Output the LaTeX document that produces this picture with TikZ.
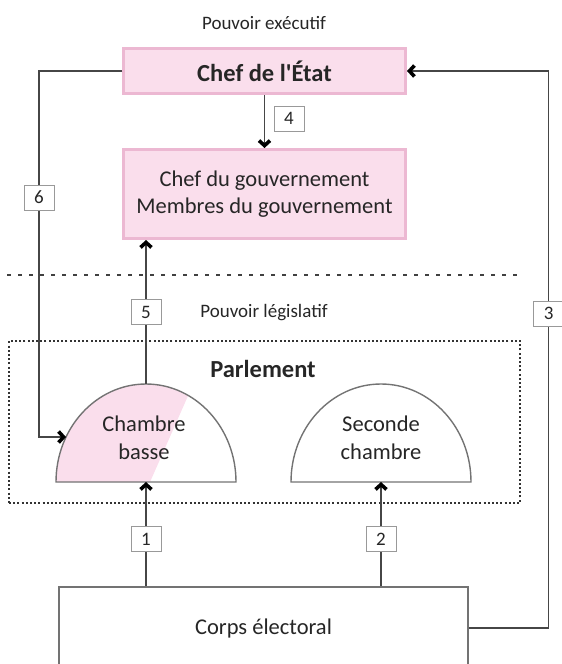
\documentclass[tikz,border=0pt]{standalone}
\usepackage{fontspec}
\setmainfont{Carlito}
\usepackage{xcolor}
\usetikzlibrary{arrows.meta,positioning}

\definecolor{rosefond}{RGB}{250,222,236}
\definecolor{rosebord}{RGB}{236,184,210}
\definecolor{trait}{RGB}{70,70,70}

\begin{document}
\begin{tikzpicture}[x=1pt, y=-1pt, ->,
    >={Straight Barb[length=5pt, width=11pt, line width'=3.6pt, color=black]},
    every node/.style={text=black!85},
    every edge/.style={draw=trait, line width=1.4pt},
    conn/.style={draw=trait, line width=1.4pt},
    pouvoir/.style={draw=rosebord, fill=rosefond, line width=3pt, inner sep=0pt},
    cadre/.style={draw=black!55, line width=1.3pt, inner sep=0pt},
    chambre/.style={draw=black!55, line width=1.4pt},
    parlement/.style={draw=black!80, line width=2pt, dash pattern=on 2pt off 2.2pt},
    num/.style={draw=black!40, fill=white, line width=1pt, inner sep=0pt,
                minimum width=30pt, minimum height=25pt, font=\fontsize{19}{19}\selectfont},
    texte/.style={align=center, font=\fontsize{22.5}{27.5}\selectfont},
    titre/.style={font=\bfseries\fontsize{24.5}{24.5}\selectfont},
    petit/.style={font=\fontsize{19}{19}\selectfont}]

  \useasboundingbox (0,0) rectangle (562,664);

  % pouvoir executif
  \node[petit]                                               (T1) at (264,23)    {Pouvoir exécutif};
  \node[pouvoir,titre, minimum width=282pt, minimum height=45pt] (E1) at (264.5,71)  {Chef de l\textquotesingle État};
  \node[pouvoir,texte, minimum width=282pt, minimum height=89pt] (E2) at (264.5,194) {Chef du gouvernement\\Membres du gouvernement};

  \draw[-, line width=2.5pt, black!75, dash pattern=on 4pt off 7pt] (7,275) -- (521,275);

  % pouvoir legislatif
  \node[petit]                                           (T2) at (264,313)   {Pouvoir législatif};
  \node[parlement, minimum width=511pt, minimum height=162pt] (P)  at (264.5,422) {};
  \node[titre]                                           (T3) at (263,369)   {Parlement};

  \coordinate (L1)     at (146,482);
  \coordinate (L2)     at (381,482);
  \coordinate (L1top)  at (146,384);
  \coordinate (L1side) at (66,437);

  \begin{scope}
    \clip (L1) ++(-90,0) arc[start angle=180, end angle=360, x radius=90, y radius=98] -- cycle;
    \fill[-, rosefond] (40,490) -- (146.5,490) -- (195,380) -- (40,380) -- cycle;
  \end{scope}
  \draw[-, chambre] (L1) ++(-90,0) arc[start angle=180, end angle=360, x radius=90, y radius=98] -- cycle;
  \draw[-, chambre] (L2) ++(-90,0) arc[start angle=180, end angle=360, x radius=90, y radius=98] -- cycle;

  \node[texte] (C1) at (144,438) {Chambre\\basse};
  \node[texte] (C2) at (381,438) {Seconde\\chambre};

  % corps electoral
  \node[cadre,texte, minimum width=409pt, minimum height=82pt] (C) at (263.5,628) {Corps électoral};

  \path (C.north -| L1) edge node[num, pos=0.45]          (N1) {1} (L1)
        (C.north -| L2) edge node[num, pos=0.45]          (N2) {2} (L2)
        (E1)            edge node[num, right=9pt, pos=0.45] (N4) {4} (E2)
        (L1top)         edge node[num]                    (N5) {5} (E2.south -| L1top)
        ;

  \draw[conn] (E1.west) -- ++(-83,0) |- node[num, pos=0.173] (N6) {6} (L1side);
  \draw[conn] (C.east)  -- ++(80,0)  |- node[num, pos=0.282] (N3) {3} (E1.east);
\end{tikzpicture}
\end{document}
